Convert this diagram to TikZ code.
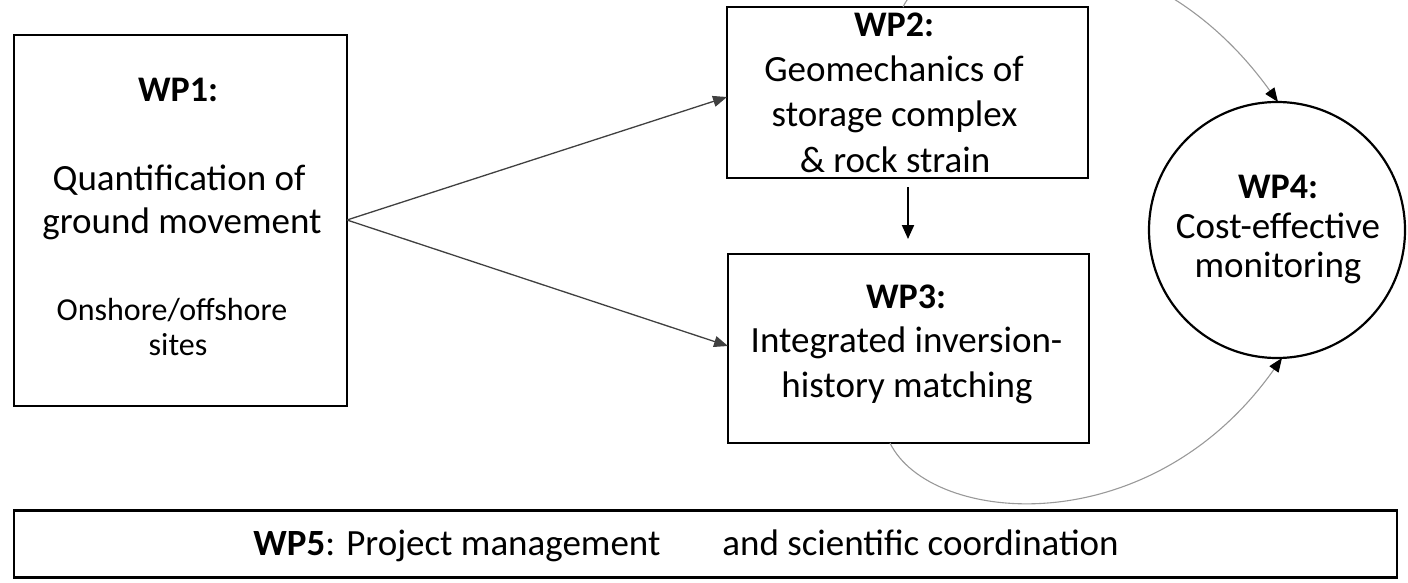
\documentclass[tikz,border=0pt]{standalone}
\usepackage{fontspec}
\setmainfont{Carlito}
\usetikzlibrary{arrows.meta}
\tikzset{
  box/.style={draw=black, line width=2.4pt, minimum width=#1, inner sep=0pt},
  txt/.style={anchor=base, inner sep=0pt, font=\fontsize{37}{45}\selectfont},
  lbl/.style={anchor=base, inner sep=0pt, font=\fontsize{36}{44}\selectfont\bfseries},
  small/.style={anchor=base, inner sep=0pt, font=\fontsize{32}{38}\selectfont},
  link/.style={draw=black!75, line width=1.3pt, -{Triangle[length=14pt,width=11pt]}},
  arc/.style={draw=black!40, line width=1.1pt, -{Triangle[length=14pt,width=11pt,black]}}
}
\begin{document}
\begin{tikzpicture}[x=1pt,y=-1pt]
\useasboundingbox (0,0) rectangle (1408,583);
\clip (0,0) rectangle (1408,583);
% boxes
\node[box=333pt, minimum height=371pt] (wp1) at (180.5,220.5) {};
\node[box=361pt, minimum height=171pt] (wp2) at (907.5,92.5) {};
\node[box=361pt, minimum height=189pt] (wp3) at (908.5,348.5) {};
\node[draw=black, line width=2.2pt, circle, minimum size=256pt, inner sep=0pt] (wp4) at (1277,230) {};
\node[box=1383pt, minimum height=67pt] (wp5) at (705.5,544) {};
% WP1 text
\node[lbl] (t1a) at (178,102) {WP1:};
\node[txt] (t1b) at (179,190) {Quantification of};
\node[txt] (t1c) at (182,233) {ground movement};
\node[small] (t1d) at (172,320) {Onshore/offshore};
\node[small] (t1e) at (178,355) {sites};
% WP2 text
\node[lbl] (t2a) at (894,37) {WP2:};
\node[txt] (t2b) at (894,82) {Geomechanics of};
\node[txt] (t2c) at (894.5,127) {storage complex};
\node[txt] (t2d) at (895,172) {\& rock strain};
% WP3 text
\node[lbl] (t3a) at (906,308) {WP3:};
\node[txt] (t3b) at (906.5,352) {Integrated inversion-};
\node[txt] (t3c) at (907,397) {history matching};
% WP4 text
\node[lbl] (t4a) at (1278,198) {WP4:};
\node[txt] (t4b) at (1278,238) {Cost-effective};
\node[txt] (t4c) at (1278,277) {monitoring};
% WP5 text
\node[anchor=base, inner sep=0pt, font=\fontsize{37}{44}\selectfont] (t5) at (686,555) {\textbf{WP5}: Project management\hspace{62pt}and scientific coordination};
% connectors
\coordinate (o1) at (347,220);
\coordinate (i2) at (727,97);
\coordinate (i3) at (728,346);
\draw[link] (o1) -- (i2);
\draw[link] (o1) -- (i3);
\coordinate (d2) at (908,187);
\coordinate (d3) at (908,239);
\draw[draw=black, line width=2pt, -{Triangle[length=14pt,width=12pt]}] (d2) -- (d3);
\coordinate (a2) at (903,7);
\coordinate (a4) at (1278,102);
\draw[arc] (a2) .. controls (935,-60) and (1140,-90) .. (a4);
\coordinate (b3) at (890,443);
\coordinate (b4) at (1282,358);
\draw[arc] (b3) .. controls (930,525) and (1150,545) .. (b4);
\end{tikzpicture}
\end{document}
